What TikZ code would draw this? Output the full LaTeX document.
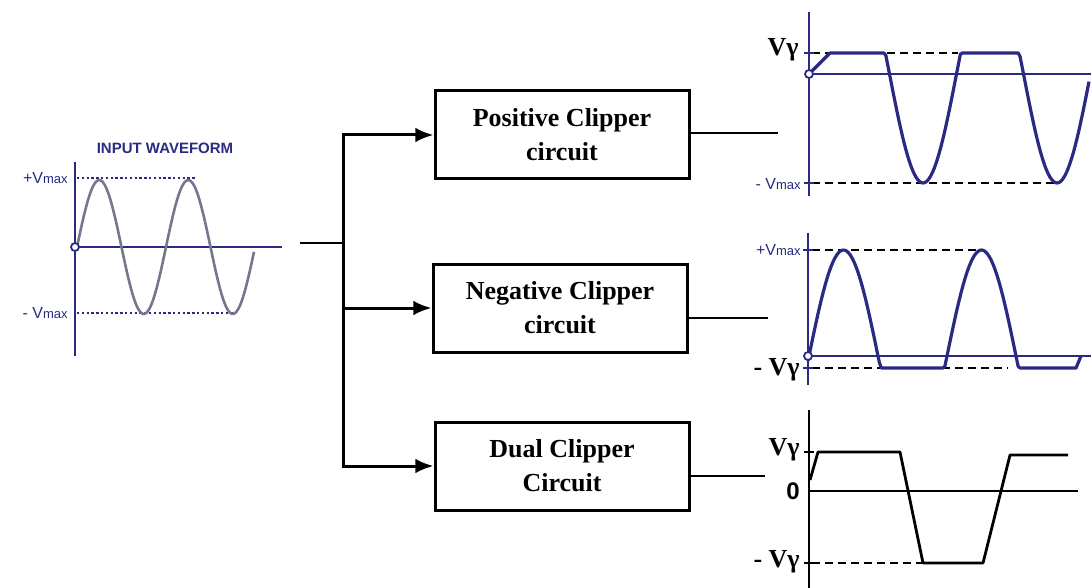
\documentclass[tikz,border=0pt]{standalone}
\usepackage{fontspec}
\setmainfont{Liberation Serif}
\setsansfont{Liberation Sans}
\usepackage{tikz}
\usetikzlibrary{arrows.meta, positioning}
\definecolor{navy}{HTML}{2A2A82}
\definecolor{greywave}{HTML}{76768E}
\tikzset{
  box/.style={rectangle, draw=black, line width=1.5pt, fill=white, align=center, minimum width=127pt, minimum height=44pt, font=\bfseries\fontsize{13}{17}\selectfont, inner sep=2pt},
  arrow/.style={-{Latex[length=3.2mm, width=2.6mm]}, line width=1.5pt, color=black},
  wire/.style={line width=1.3pt, color=black},
  axis/.style={line width=1.4pt, color=navy},
  blackaxis/.style={line width=1.3pt, color=black},
  insig/.style={line width=1.3pt, color=greywave},
  outsig/.style={line width=1.6pt, color=navy, line join=round},
  dualsig/.style={line width=1.4pt, color=black, line join=round},
  guide/.style={line width=1pt, dash pattern=on 4pt off 2.5pt, color=black},
  dots/.style={line width=0.9pt, dash pattern=on 1.2pt off 1.2pt, color=navy},
  origin/.style={circle, draw=navy, fill=white, line width=0.9pt, inner sep=0pt, minimum size=4pt},
  vlabel/.style={font=\bfseries\fontsize{13}{13}\selectfont, anchor=east, inner sep=1pt},
  slabel/.style={font=\sffamily\fontsize{8}{8}\selectfont, text=navy, anchor=east, inner sep=1pt},
}
\newcommand{\vmax}[1]{#1V{\fontsize{6.5}{6.5}\selectfont max}}

\begin{document}
\begin{tikzpicture}[x=0.5pt, y=-0.5pt]
  \useasboundingbox (0,0) rectangle (1091,588);

  % input waveform
  \node[font=\sffamily\bfseries\fontsize{7.5}{9}\selectfont, text=navy] (title) at (165,148) {INPUT WAVEFORM};
  \draw[dots] (77,178) -- (196,178);
  \draw[dots] (77,313) -- (236,313);
  \draw[axis] (75,162) -- (75,356);
  \draw[axis] (75,247) -- (282,247);
  \draw[insig] plot[domain=77:254, samples=90, smooth] (\x,{247-67*sin(4.045*(\x-77))});
  \node[origin] (o1) at (75,247) {};
  \node[slabel] (pmax1) at (70,178) {\vmax{+}};
  \node[slabel] (mmax1) at (70,313) {\vmax{- }};

  % blocks
  \node[box] (pos) at (562,135) {Positive Clipper\\circuit};
  \node[box] (neg) at (560,308) {Negative Clipper\\circuit};
  \node[box] (dual) at (562,466) {Dual Clipper\\Circuit};

  \coordinate (in) at (300,243);
  \coordinate (bus) at (343,243);
  \draw[wire] (in) -- (bus);
  \draw[arrow] (bus) |- (pos.west);
  \draw[arrow] (bus) |- (neg.west);
  \draw[arrow] (bus) |- (dual.west);

  \coordinate (posout) at (778,133);
  \coordinate (negout) at (768,318);
  \coordinate (dualout) at (765,476);
  \draw[wire] (pos.east |- posout) -- (posout);
  \draw[wire] (neg.east |- negout) -- (negout);
  \draw[wire] (dual.east |- dualout) -- (dualout);

  % positive clipper output
  \draw[guide] (812,53) -- (884,53);
  \draw[guide] (887,53) -- (958,53);
  \draw[guide] (812,183) -- (1055,183);
  \draw[axis] (809,12) -- (809,196);
  \draw[axis] (809,74) -- (1091,74);
  \draw[axis] (804,53) -- (814,53);
  \draw[axis] (804,183) -- (814,183);
  \draw[outsig] (809,74) -- (830,53) -- plot[domain=830:1089, samples=140] (\x,{max(53,74-109*sin(2.6866*(\x-822.5)))});
  \node[origin] (o2) at (809,74) {};
  \node[vlabel] (vg2) at (801,50) {Vγ};
  \node[slabel] (mmax2) at (803,184) {\vmax{- }};

  % negative clipper output
  \draw[guide] (812,250) -- (980,250);
  \draw[guide] (812,368) -- (1008,368);
  \draw[axis] (808,233) -- (808,385);
  \draw[axis] (808,356) -- (1091,356);
  \draw[axis] (803,250) -- (813,250);
  \draw[axis] (803,368) -- (813,368);
  \draw[outsig] plot[domain=808:1076, samples=140] (\x,{min(368,356-106*sin(2.6087*(\x-809)))}) -- (1081,356);
  \node[origin] (o3) at (808,356) {};
  \node[slabel] (pmax3) at (803,250) {\vmax{+}};
  \node[vlabel] (vg3) at (802,370) {- Vγ};

  % dual clipper output
  \draw[guide] (812,563) -- (922,563);
  \draw[blackaxis] (809,410) -- (809,588);
  \draw[blackaxis] (809,491) -- (1078,491);
  \draw[blackaxis] (804,452) -- (814,452);
  \draw[blackaxis] (804,563) -- (814,563);
  \draw[dualsig] (810,480) -- (818,452) -- (900,452) -- (923,563) -- (983,563) -- (1010,455) -- (1068,455);
  \node[vlabel] (vg4) at (802,450) {Vγ};
  \node[font=\sffamily\bfseries\fontsize{12}{12}\selectfont, anchor=east, inner sep=1pt] (zero) at (802,491) {0};
  \node[vlabel] (vg5) at (802,562) {- Vγ};
\end{tikzpicture}
\end{document}
